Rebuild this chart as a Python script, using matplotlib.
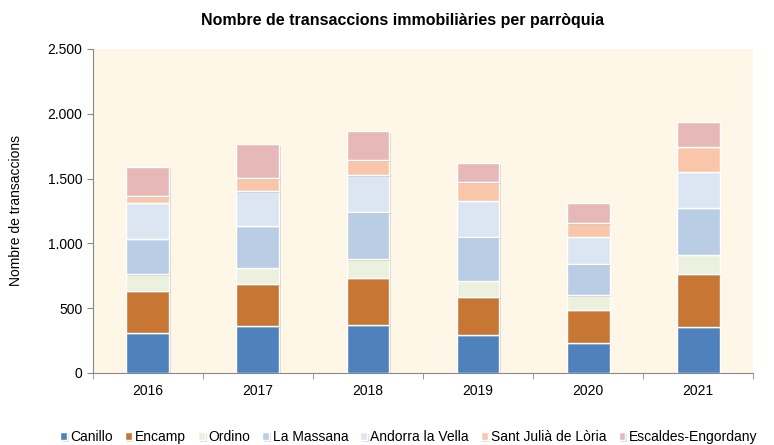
import matplotlib.pyplot as plt
import matplotlib.patheffects as pe
from matplotlib.ticker import FuncFormatter, FixedLocator
import numpy as np

plt.rcParams['font.family'] = ['Liberation Sans', 'DejaVu Sans']

# --- DATA ---
anys = ["2016", "2017", "2018", "2019", "2020", "2021"]
canillo = [311, 360, 370, 296, 231, 357]
encamp = [322, 327, 365, 288, 257, 407]
ordino = [131, 126, 142, 128, 114, 149]
la_massana = [272, 324, 363, 337, 237, 362]
andorra_la_vella = [278, 267, 285, 281, 213, 278]
sant_julia = [52, 98, 118, 141, 103, 193]
escaldes = [226, 265, 224, 147, 159, 193]

parroquies = ["Canillo", "Encamp", "Ordino", "La Massana", "Andorra la Vella",
              "Sant Julià de Lòria", "Escaldes-Engordany"]
series = [canillo, encamp, ordino, la_massana, andorra_la_vella, sant_julia, escaldes]
colors = ["#4F81BD", "#C77733", "#EBF1DE", "#B9CDE5", "#DCE6F2", "#FAC6AA", "#E6B9B8"]

fig = plt.figure(figsize=(7.74, 4.45), dpi=100)
ax = fig.add_axes([0.120, 0.162, 0.853, 0.728])
ax.set_facecolor("#FEF6E6")

x = np.arange(len(anys))
bottom = np.zeros(len(anys))
handles = []
for nom, vals, col in zip(parroquies, series, colors):
    bars = ax.bar(x, vals, bottom=bottom, width=0.39, color=col,
                  edgecolor="white", linewidth=1.0, label=nom, zorder=3)
    for b in bars:
        b.set_path_effects([pe.SimplePatchShadow(offset=(1.2, -1.2), shadow_rgbFace="#999999", alpha=0.35),
                            pe.Normal()])
    handles.append(bars)
    bottom += np.array(vals)

ax.set_xlim(-0.5, len(anys) - 0.5)
ax.set_ylim(0, 2500)
ax.set_yticks(np.arange(0, 2501, 500))
ax.yaxis.set_major_formatter(FuncFormatter(lambda v, p: f"{int(v):,}".replace(",", ".")))

ax.set_xticks(x)
ax.set_xticklabels(anys)
ax.xaxis.set_minor_locator(FixedLocator(np.arange(-0.5, len(anys), 1.0)))
ax.tick_params(axis="x", which="major", length=0, labelsize=10, pad=8)
ax.tick_params(axis="x", which="minor", length=4, color="#888888", direction="out")
ax.tick_params(axis="y", length=4, color="#888888", labelsize=10, direction="out")

for s in ["top", "right"]:
    ax.spines[s].set_visible(False)
for s in ["left", "bottom"]:
    ax.spines[s].set_color("#888888")

ax.set_ylabel("Nombre de transaccions", fontsize=10, labelpad=18)
fig.text(0.52, 0.955, "Nombre de transaccions immobiliàries per parròquia",
         ha="center", va="center", fontsize=11.5, fontweight="bold")

leg = fig.legend(handles, parroquies, loc="center", bbox_to_anchor=(0.528, 0.018),
                 ncol=7, frameon=False, fontsize=10, handlelength=0.5, handleheight=0.5,
                 handletextpad=0.25, columnspacing=0.85, borderaxespad=0)

fig.savefig("out.png", dpi=100)
